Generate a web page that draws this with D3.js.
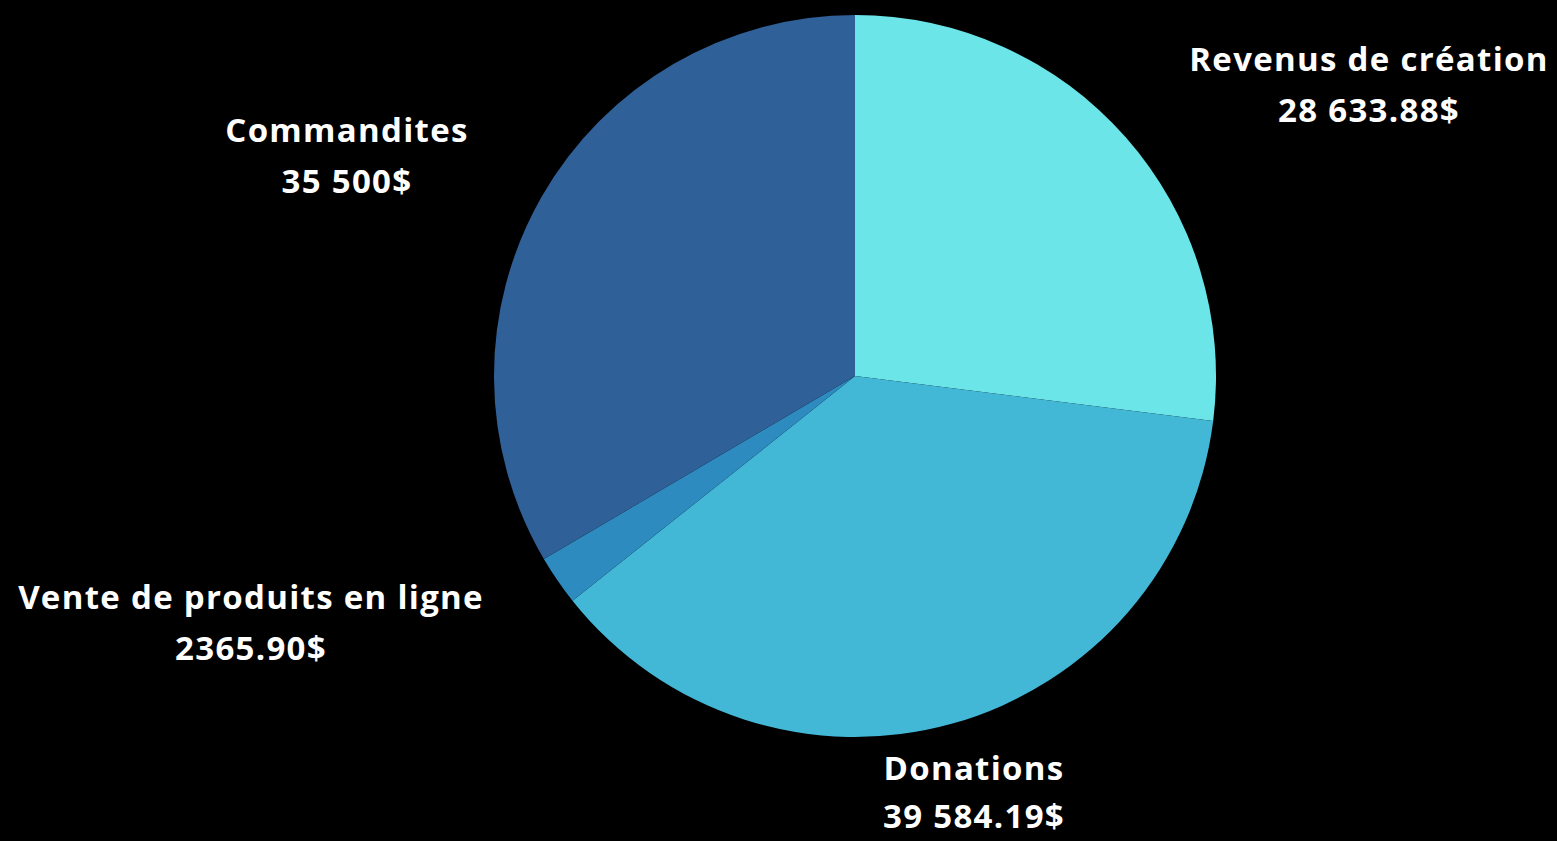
<!DOCTYPE html>
<html lang="fr">
<head>
  <meta charset="UTF-8">
  <title>Revenus</title>
  <script src="https://d3js.org/d3.v7.min.js"></script>
  <style>
    html, body { margin: 0; padding: 0; background: #000; overflow: hidden; }
    text {
      font-family: "Open Sans", "Noto Sans", sans-serif;
      font-weight: 700;
      fill: #fff;
      font-size: 33px;
      letter-spacing: 1.3px;
    }
  </style>
</head>
<body>
  <div class="chart"></div>
  <script>
    const categories = ["Revenus de création", "Donations", "Vente de produits en ligne", "Commandites"];
    const values = [28633.88, 39584.19, 2365.90, 35500];
    const valueLabels = ["28 633.88$", "39 584.19$", "2365.90$", "35 500$"];
    const colors = ["#6ce5e8", "#42b7d6", "#2e8bbf", "#2f6098"];

    const width = 1557, height = 841;
    const cx = 855, cy = 376, radius = 361;

    // label anchor (baseline of first line) for each slice
    const labelPos = [[1369, 71], [974, 780], [251, 609], [347, 142]];
    const lineGap = 51;

    const svg = d3.select(".chart").append("svg")
      .attr("width", width)
      .attr("height", height);

    const pie = d3.pie().sort(null).value(d => d);
    const arc = d3.arc().innerRadius(0).outerRadius(radius);

    const g = svg.append("g").attr("transform", `translate(${cx},${cy})`);
    g.selectAll("path")
      .data(pie(values))
      .join("path")
      .attr("d", arc)
      .attr("fill", (d, i) => colors[i]);

    categories.forEach((c, i) => {
      const t = svg.append("text")
        .attr("text-anchor", "middle")
        .attr("x", labelPos[i][0])
        .attr("y", labelPos[i][1]);
      t.append("tspan").attr("x", labelPos[i][0]).text(c);
      t.append("tspan").attr("x", labelPos[i][0]).attr("dy", i === 1 ? lineGap - 3 : lineGap).text(valueLabels[i]);
    });
  </script>
</body>
</html>
